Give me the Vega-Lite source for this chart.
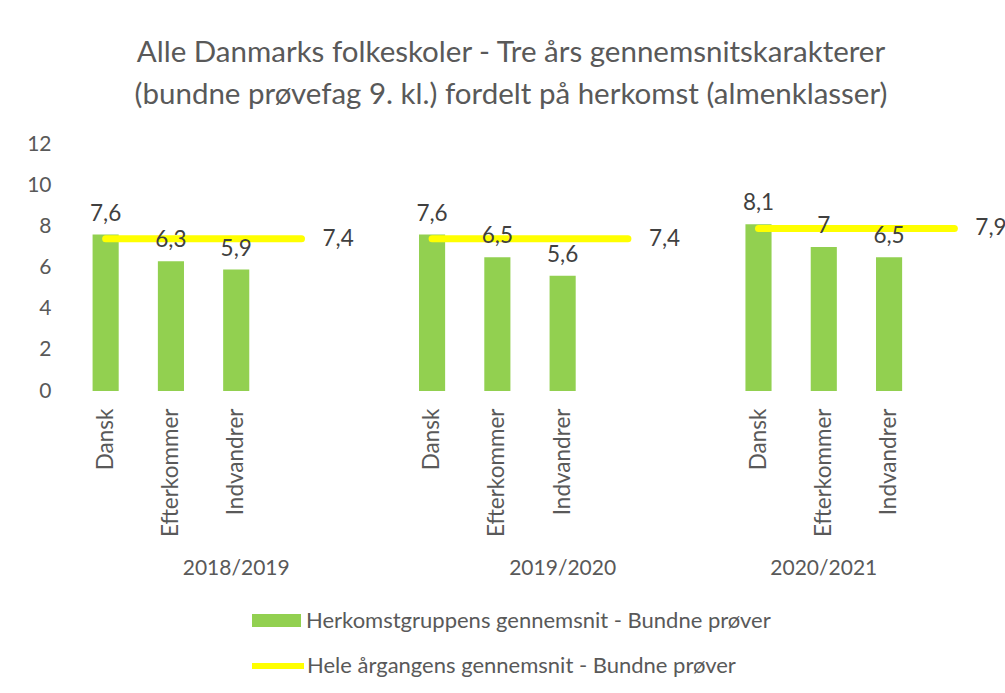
{
  "$schema": "https://vega.github.io/schema/vega-lite/v6.json",
  "width": 914,
  "height": 247,
  "autosize": {"type": "none"},
  "padding": {"left": 73, "top": 144, "right": 18, "bottom": 302},
  "config": {
    "locale": {"number": {"decimal": ",", "thousands": ".", "grouping": [3], "currency": ["", " kr."]}},
    "view": {"stroke": null},
    "font": "Lato"
  },
  "title": {
    "text": ["Alle Danmarks folkeskoler - Tre års gennemsnitskarakterer", "(bundne prøvefag 9. kl.) fordelt på herkomst (almenklasser)"],
    "fontSize": 29.5,
    "font": "Lato",
    "fontWeight": "normal",
    "color": "#595959",
    "anchor": "middle",
    "frame": "group",
    "dx": -19,
    "offset": 23,
    "lineHeight": 42
  },
  "data": {
    "values": [
      {"year": "2018/2019", "cat": "Dansk", "key": "2018/2019|Dansk", "grade": 7.6, "avg": 7.4},
      {"year": "2018/2019", "cat": "Efterkommer", "key": "2018/2019|Efterkommer", "grade": 6.3, "avg": 7.4},
      {"year": "2018/2019", "cat": "Indvandrer", "key": "2018/2019|Indvandrer", "grade": 5.9, "avg": 7.4},
      {"year": "2018/2019", "cat": "", "key": "2018/2019|4", "grade": null, "avg": 7.4},
      {"year": "2019/2020", "cat": "Dansk", "key": "2019/2020|Dansk", "grade": 7.6, "avg": 7.4},
      {"year": "2019/2020", "cat": "Efterkommer", "key": "2019/2020|Efterkommer", "grade": 6.5, "avg": 7.4},
      {"year": "2019/2020", "cat": "Indvandrer", "key": "2019/2020|Indvandrer", "grade": 5.6, "avg": 7.4},
      {"year": "2019/2020", "cat": "", "key": "2019/2020|4", "grade": null, "avg": 7.4},
      {"year": "2020/2021", "cat": "Dansk", "key": "2020/2021|Dansk", "grade": 8.1, "avg": 7.9},
      {"year": "2020/2021", "cat": "Efterkommer", "key": "2020/2021|Efterkommer", "grade": 7.0, "avg": 7.9},
      {"year": "2020/2021", "cat": "Indvandrer", "key": "2020/2021|Indvandrer", "grade": 6.5, "avg": 7.9},
      {"year": "2020/2021", "cat": "", "key": "2020/2021|4", "grade": null, "avg": 7.9}
    ]
  },
  "layer": [
    {
      "encoding": {
        "x": {
          "field": "key",
          "type": "nominal",
          "scale": {
            "domain": ["2018/2019|Dansk", "2018/2019|Efterkommer", "2018/2019|Indvandrer", "2018/2019|4", "2018/2019|5",
                       "2019/2020|Dansk", "2019/2020|Efterkommer", "2019/2020|Indvandrer", "2019/2020|4", "2019/2020|5",
                       "2020/2021|Dansk", "2020/2021|Efterkommer", "2020/2021|Indvandrer", "2020/2021|4"],
            "paddingInner": 0.6,
            "paddingOuter": 0.3
          },
          "axis": {
            "title": null,
            "domain": false,
            "ticks": false,
            "grid": false,
            "labelAngle": -90,
            "labelPadding": 17,
            "labelFontSize": 22.5,
            "labelColor": "#595959",
            "labelFont": "Lato",
            "labelExpr": "length(split(datum.value, '|')[1]) > 1 ? split(datum.value, '|')[1] : ''"
          }
        }
      },
      "layer": [
        {
          "transform": [{"filter": "isValid(datum.grade)"}],
          "mark": {"type": "bar"},
          "encoding": {
            "y": {
              "field": "grade",
              "type": "quantitative",
              "scale": {"domain": [0, 12]},
              "axis": {
                "title": null,
                "domain": false,
                "ticks": false,
                "grid": false,
                "values": [0, 2, 4, 6, 8, 10, 12],
                "labelPadding": 22,
                "labelFontSize": 21,
                "labelColor": "#595959",
                "labelFont": "Lato"
              }
            },
            "color": {
              "datum": "Herkomstgruppens gennemsnit - Bundne prøver",
              "scale": {"range": ["#92D050"]},
              "legend": {
                "orient": "none",
                "legendX": 179,
                "legendY": 452,
                "title": null,
                "symbolType": "M-1,-0.27L1,-0.27L1,0.27L-1,0.27Z",
                "symbolSize": 2401,
                "symbolStrokeWidth": 0,
                "labelFontSize": 22,
                "labelColor": "#595959",
                "labelFont": "Lato",
                "labelOffset": 5,
                "labelLimit": 600
              }
            }
          }
        },
        {
          "mark": {"type": "line", "strokeWidth": 7, "strokeCap": "round"},
          "encoding": {
            "y": {"field": "avg", "type": "quantitative"},
            "detail": {"field": "year"},
            "stroke": {
              "datum": "Hele årgangens gennemsnit - Bundne prøver",
              "scale": {"range": ["#FFFF00"]},
              "legend": {
                "orient": "none",
                "legendX": 176,
                "legendY": 493,
                "title": null,
                "symbolType": "stroke",
                "symbolSize": 2704,
                "symbolStrokeWidth": 6,
                "labelFontSize": 22,
                "labelColor": "#595959",
                "labelFont": "Lato",
                "labelOffset": 0,
                "labelLimit": 600
              }
            }
          }
        },
        {
          "transform": [{"filter": "isValid(datum.grade)"}],
          "mark": {"type": "text", "baseline": "bottom", "dy": -9, "fontSize": 22.5, "color": "#404040", "font": "Lato"},
          "encoding": {
            "y": {"field": "grade", "type": "quantitative"},
            "text": {"field": "grade", "type": "quantitative", "format": "~g"}
          }
        },
        {
          "transform": [{"filter": "datum.cat === ''"}],
          "mark": {"type": "text", "align": "left", "baseline": "middle", "dx": 21, "fontSize": 22.5, "color": "#404040", "font": "Lato"},
          "encoding": {
            "y": {"field": "avg", "type": "quantitative"},
            "text": {"field": "avg", "type": "quantitative", "format": "~g"}
          }
        }
      ]
    },
    {
      "mark": {"type": "text"},
      "encoding": {
        "x": {
          "field": "key",
          "type": "nominal",
          "scale": {
            "domain": ["2018/2019|Dansk", "2018/2019|Efterkommer", "2018/2019|Indvandrer", "2018/2019|4", "2018/2019|5",
                       "2019/2020|Dansk", "2019/2020|Efterkommer", "2019/2020|Indvandrer", "2019/2020|4", "2019/2020|5",
                       "2020/2021|Dansk", "2020/2021|Efterkommer", "2020/2021|Indvandrer", "2020/2021|4"],
            "paddingInner": 0.6,
            "paddingOuter": 0.3
          },
          "axis": {
            "orient": "bottom",
            "title": null,
            "domain": false,
            "ticks": false,
            "grid": false,
            "labelAngle": 0,
            "labelPadding": 166,
            "labelFontSize": 21,
            "labelColor": "#595959",
            "labelFont": "Lato",
            "labelExpr": "indexof(['2018/2019|Indvandrer', '2019/2020|Indvandrer', '2020/2021|Efterkommer'], datum.value) >= 0 ? split(datum.value, '|')[0] : ''"
          }
        }
      }
    }
  ],
  "resolve": {"axis": {"x": "independent"}}
}
